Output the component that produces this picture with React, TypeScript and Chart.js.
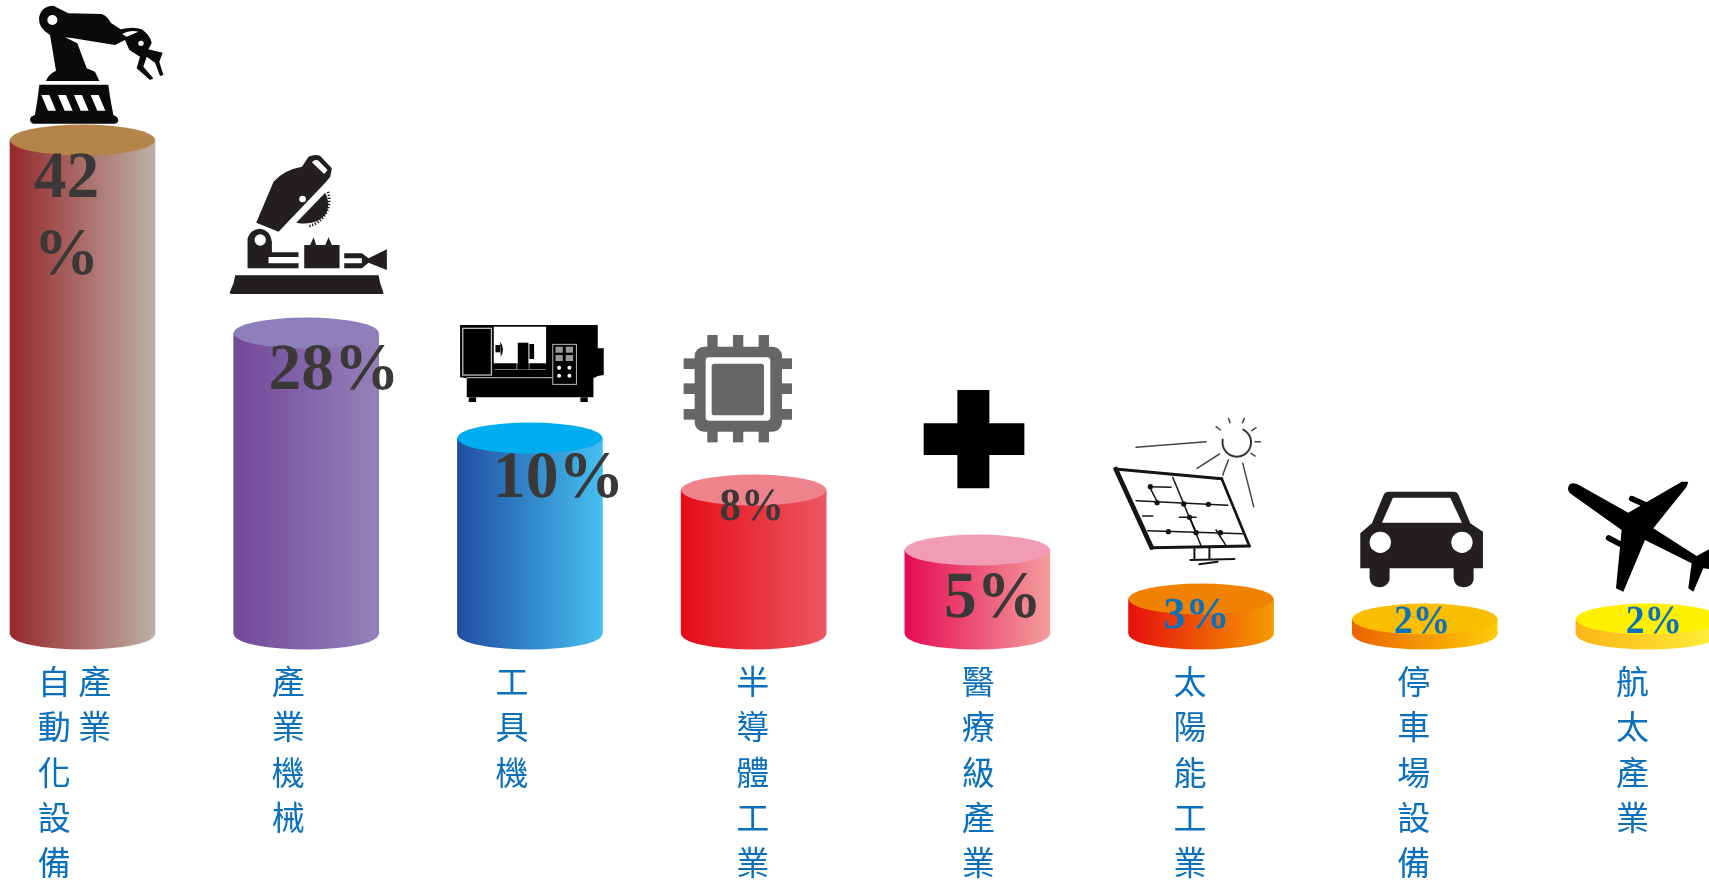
import React, { useEffect, useRef } from "react";
import { Chart, LinearScale, registerables } from "chart.js";

// Share of each application sector, in percent.
const shareValues = [42, 28, 10, 8, 5, 3, 2, 2];

// Sector names, written top to bottom; one sector runs over two columns.
const sectorColumns = [
  ["自動化設備", "產業"],
  ["產業機械"],
  ["工具機"],
  ["半導體工業"],
  ["醫療級產業"],
  ["太陽能工業"],
  ["停車場設備"],
  ["航太產業"],
];

const sideColors = [
  ["#96282c", "#bdb0a4"],
  ["#734799", "#9382ba"],
  ["#1f4ea1", "#46bff0"],
  ["#e60c17", "#ec5761"],
  ["#e60b55", "#f49d9b"],
  ["#e60f0c", "#f59c00"],
  ["#ec6400", "#fccd05"],
  ["#fbb414", "#fff13c"],
];
const capColors = ["#b3854a", "#8d80ba", "#00aeef", "#ef838c", "#f19cb4", "#f08200", "#fabe00", "#fff000"];

const DARK = "#3b3838";
const BLUE = "#0b70bb";
const VALUE_FONT = '"Liberation Serif", serif';
const LABEL_FONT = '"Noto Sans CJK TC", sans-serif';

const BAR_WIDTH = 145;
const CAP_RY = 15.5;
const X_MIN = -0.3688;
const X_MAX = 7.2705;
const X_UNIT = 1709 / (X_MAX - X_MIN);

// Placement of the value text around each cylinder top; the smaller type is set slightly condensed.
const valueLayout = [
  { dx: -16, dy: 57, size: 66, squeeze: 0.99, color: DARK },
  { dx: 27.7, dy: 56, size: 66, squeeze: 0.99, color: DARK },
  { dx: 28.6, dy: 59, size: 66, squeeze: 0.995, color: DARK },
  { dx: -2, dy: 30, size: 46, squeeze: 0.935, color: DARK },
  { dx: 15.6, dy: 67, size: 66, squeeze: 0.99, color: DARK },
  { dx: -4.5, dy: 29, size: 44, squeeze: 1, color: BLUE },
  { dx: -2.5, dy: 14, size: 40, squeeze: 0.94, color: BLUE },
  { dx: 5.5, dy: 14, size: 40, squeeze: 0.94, color: BLUE },
];
const WRAPPED_LINE_GAP = 77;
const labelNudges = [-8, -18, -18, -1, 1, -11, -11, -16];

// Pictorial value axis: cylinder heights grow unevenly with the value.
const axisStops = [
  [0, 0],
  [2, 0.0237],
  [3, 0.0552],
  [5, 0.1325],
  [8, 0.2271],
  [10, 0.3091],
  [28, 0.4748],
  [42, 0.7792],
  [54, 1],
];

class PictorialScale extends LinearScale {
  static id = "pictorial";
  static defaults = LinearScale.defaults;
  getPixelForValue(value: number) {
    for (let i = 1; i < axisStops.length; i++) {
      const [v0, f0] = axisStops[i - 1];
      const [v1, f1] = axisStops[i];
      if (value <= v1) return this.getPixelForDecimal(f0 + ((value - v0) / (v1 - v0)) * (f1 - f0));
    }
    return this.getPixelForDecimal(1);
  }
  getValueForPixel(pixel: number) {
    const f = this.getDecimalForPixel(pixel);
    for (let i = 1; i < axisStops.length; i++) {
      const [v0, f0] = axisStops[i - 1];
      const [v1, f1] = axisStops[i];
      if (f <= f1) return v0 + ((f - f0) / (f1 - f0)) * (v1 - v0);
    }
    return axisStops[axisStops.length - 1][0];
  }
}

Chart.register(...registerables, PictorialScale);

// Turn the column lists into the lines of a tick label.
function stackedLines(columns: string[]) {
  const rows = Math.max(...columns.map((c) => c.length));
  const lines: string[] = [];
  for (let r = 0; r < rows; r++) {
    lines.push(columns.map((c) => c[r] ?? "\u3000").join(" "));
  }
  return lines;
}

type Ctx = CanvasRenderingContext2D;

function fillPath(ctx: Ctx, d: string, color: string) {
  ctx.fillStyle = color;
  ctx.fill(new Path2D(d));
}
function circle(ctx: Ctx, x: number, y: number, r: number, color: string) {
  ctx.fillStyle = color;
  ctx.beginPath();
  ctx.arc(x, y, r, 0, Math.PI * 2);
  ctx.fill();
}
function segments(ctx: Ctx, lines: number[][], width: number, color: string) {
  ctx.strokeStyle = color;
  ctx.lineWidth = width;
  ctx.lineCap = "round";
  for (const [a, b, c, d] of lines) {
    ctx.beginPath();
    ctx.moveTo(a, b);
    ctx.lineTo(c, d);
    ctx.stroke();
  }
}
function roundBox(ctx: Ctx, x: number, y: number, w: number, h: number, r: number, color: string) {
  ctx.fillStyle = color;
  ctx.beginPath();
  ctx.roundRect(x, y, w, h, r);
  ctx.fill();
}

const K = "#0a0a0a";
const W = "#ffffff";

function robotIcon(ctx: Ctx) {
  fillPath(ctx, "M90 358Q92 348 105 345L112 300L118 254L325 254L330 290L340 345Q355 350 355 362Q352 372 340 371L100 371Q90 368 90 358Z", K);
  for (const x of [124, 174, 222, 272]) {
    fillPath(ctx, `M${x} 285L${x + 24} 285L${x + 44} 332L${x + 20} 332Z`, W);
  }
  fillPath(
    ctx,
    "M138 243Q145 222 168 212L150 105Q115 85 117 55Q122 18 160 17L205 40L305 42Q322 48 332 68L362 88Q400 78 425 88Q450 105 455 128Q450 140 445 148L488 158L478 185L490 225L480 228L465 188L440 170L430 200L460 235L450 240L410 205L420 170L388 150L375 120L345 135L220 115L195 112L232 130L260 205L285 215L298 243Z",
    K
  );
  circle(ctx, 157, 60, 15, W);
  circle(ctx, 423, 130, 8, W);
  fillPath(ctx, "M366 102Q390 88 415 95L380 110Z", W);
}

function sawIcon(ctx: Ctx) {
  const c = "#231f20";
  fillPath(ctx, "M688 878L700 850L705 826L1135 826L1140 850L1150 878Q1150 882 1145 882L692 882Z", c);
  fillPath(ctx, "M742 805L742 715Q750 688 780 686Q810 690 815 725L815 757L895 757L895 771L805 771L805 790L895 790L895 805Z", c);
  circle(ctx, 780, 720, 17, W);
  fillPath(ctx, "M912 805L912 735L930 735L940 712L948 735L975 735L985 712L995 735L1018 735L1018 805Z", c);
  fillPath(ctx, "M1032 760L1085 760L1105 775L1160 748L1160 810L1105 788L1085 805L1032 805L1032 790L1085 790L1085 775L1032 775Z", c);
  fillPath(ctx, "M768 668L820 545Q850 510 905 500L925 470Q945 462 960 468L995 505L990 530L978 545L835 695Z", c);
  fillPath(ctx, "M935 487Q945 477 955 482L982 510L972 522Z", W);
  circle(ctx, 907, 597, 10, W);
  fillPath(ctx, "M888 668L975 578Q992 610 978 640Q950 680 888 668Z", c);
  ctx.strokeStyle = c;
  ctx.lineWidth = 8;
  ctx.setLineDash([4, 5]);
  ctx.beginPath();
  ctx.arc(905, 600, 82, -0.3, 1.35);
  ctx.stroke();
  ctx.setLineDash([]);
}

function latheIcon(ctx: Ctx) {
  fillPath(ctx, "M92 75L505 75L505 145L523 145L523 225L505 228L492 235L492 292L112 292L112 235L92 232Z", "#000");
  ctx.fillRect(118, 292, 22, 14);
  ctx.fillRect(453, 292, 22, 14);
  ctx.fillStyle = W;
  ctx.fillRect(193, 80, 157, 110);
  ctx.strokeStyle = "#bbb";
  ctx.lineWidth = 4;
  ctx.strokeRect(100, 85, 86, 140);
  segments(ctx, [[112, 233, 368, 233], [197, 208, 347, 208], [197, 190, 347, 190]], 3, "#ccc");
  ctx.fillStyle = "#000";
  ctx.fillRect(197, 190, 150, 18);
  ctx.fillRect(197, 211, 150, 20);
  ctx.fillRect(265, 128, 32, 80);
  ctx.fillRect(300, 132, 14, 45);
  ctx.fillRect(198, 135, 14, 22);
  fillPath(ctx, "M212 125Q228 145 214 170Z", "#000");
  segments(ctx, [[262, 190, 262, 208], [299, 190, 299, 208]], 2, "#ccc");
  ctx.strokeStyle = "#bbb";
  ctx.lineWidth = 3;
  ctx.strokeRect(370, 133, 71, 120);
  for (const x of [378, 409]) {
    for (const y of [140, 165]) {
      ctx.fillStyle = "#999";
      ctx.fillRect(x, y, 22, 18);
    }
    circle(ctx, x + 11, 203, 6, W);
    circle(ctx, x + 11, 227, 6, W);
  }
}

function chipIcon(ctx: Ctx) {
  const g = "#666666";
  roundBox(ctx, 795, 140, 262, 255, 28, g);
  for (const x of [833, 910, 987]) {
    ctx.fillStyle = g;
    ctx.fillRect(x, 105, 31, 40);
    ctx.fillRect(x, 390, 31, 37);
  }
  for (const y of [175, 250, 327]) {
    ctx.fillStyle = g;
    ctx.fillRect(762, y, 40, 32);
    ctx.fillRect(1050, y, 37, 32);
  }
  roundBox(ctx, 828, 172, 194, 190, 10, W);
  roundBox(ctx, 846, 191, 157, 155, 8, g);
}

function crossIcon(ctx: Ctx) {
  fillPath(ctx, "M231 30L327 30L327 130L432 130L432 225L327 225L327 325L231 325L231 225L130 225L130 130L231 130Z", "#000");
}

function solarIcon(ctx: Ctx) {
  const c = "#141414";
  segments(ctx, [[704, 267, 812, 503]], 14, c);
  segments(ctx, [[702, 267, 1022, 296], [810, 503, 1105, 498]], 9, c);
  segments(ctx, [[1022, 296, 1105, 498]], 8, c);
  segments(
    ctx,
    [
      [765, 362, 1040, 376], [800, 452, 1085, 461], [785, 408, 815, 408], [895, 412, 945, 412],
      [875, 292, 960, 497], [805, 320, 870, 322], [805, 320, 832, 372], [1005, 450, 1035, 497],
      [925, 410, 945, 455],
    ],
    4.5,
    c
  );
  for (const [x, y] of [[808, 320], [828, 368], [908, 372], [982, 373], [862, 455], [945, 458], [1018, 458], [925, 412]]) {
    circle(ctx, x, y, 8, c);
  }
  segments(ctx, [[940, 508, 940, 535], [985, 505, 985, 535], [928, 540, 1060, 537], [955, 553, 1010, 545]], 6, c);
  ctx.strokeStyle = "#333";
  ctx.lineWidth = 6;
  ctx.beginPath();
  ctx.arc(1067, 187, 43, -1.1, Math.PI + 0.2);
  ctx.stroke();
  segments(
    ctx,
    [
      [765, 202, 975, 185], [948, 265, 1015, 222], [1025, 285, 1042, 240], [1085, 250, 1118, 380],
      [1005, 140, 1018, 150], [1042, 115, 1047, 128], [1090, 115, 1084, 128], [1125, 143, 1112, 152],
      [1138, 185, 1122, 185], [1122, 228, 1110, 220],
    ],
    4.5,
    "#444"
  );
}

function carIcon(ctx: Ctx) {
  fillPath(
    ctx,
    "M120 325L120 220L155 190L190 105Q195 95 205 95L400 95Q410 95 415 105L450 190L488 215L488 325L460 325L460 360Q455 382 430 382Q402 380 400 355L400 325L208 325L208 360Q200 382 178 382Q150 380 148 355L148 325Z",
    "#231f20"
  );
  fillPath(ctx, "M218 113L390 113L425 188L185 188Z", W);
  circle(ctx, 180, 247, 32, W);
  circle(ctx, 425, 247, 32, W);
}

function planeIcon(ctx: Ctx) {
  fillPath(
    ctx,
    "M750 72Q765 66 782 78L925 158L1085 65L1105 65L1100 80L1000 205L1130 288L1190 255L1190 330L1150 325L1120 395L1105 385L1115 310L975 240L910 395L888 385L905 210L750 100Q738 85 750 72Z",
    "#000"
  );
  segments(ctx, [[935, 116, 975, 134], [866, 234, 900, 252]], 17, "#000");
}

// Each glyph is sketched at three times its size; anchors are measured from the top of its cylinder.
const icons = [
  { draw: robotIcon, ox: -82.5, oy: -140 },
  { draw: sawIcon, ox: -306, oy: -333 },
  { draw: latheIcon, ox: -100.5, oy: -138 },
  { draw: chipIcon, ox: -324, oy: -190 },
  { draw: crossIcon, ox: -97, oy: -170 },
  { draw: solarIcon, ox: -320, oy: -219 },
  { draw: carIcon, ox: -104.5, oy: -159 },
  { draw: planeIcon, ox: -328.5, oy: -159 },
];

const cylinderPlugin = {
  id: "cylinder",
  afterDatasetsDraw(chart: any) {
    const { ctx } = chart;
    const bars = chart.getDatasetMeta(0).data;
    bars.forEach((bar: any, i: number) => {
      const rx = BAR_WIDTH / 2;
      const base = bar.base;
      const grad = ctx.createLinearGradient(bar.x - rx, 0, bar.x + rx, 0);
      grad.addColorStop(0, sideColors[i][0]);
      grad.addColorStop(1, sideColors[i][1]);
      ctx.save();
      ctx.fillStyle = grad;
      ctx.beginPath();
      ctx.ellipse(bar.x, base, rx, CAP_RY, 0, 0, Math.PI);
      ctx.fill();
      ctx.fillStyle = capColors[i];
      ctx.beginPath();
      ctx.ellipse(bar.x, bar.y, rx, CAP_RY, 0, 0, Math.PI * 2);
      ctx.fill();
      ctx.restore();

      const icon = icons[i];
      ctx.save();
      ctx.translate(bar.x + icon.ox, bar.y + icon.oy);
      ctx.scale(1 / 3, 1 / 3);
      icon.draw(ctx);
      ctx.restore();

      const layout = valueLayout[i];
      const value = shareValues[i];
      ctx.save();
      ctx.translate(bar.x + layout.dx, bar.y + layout.dy);
      ctx.scale(layout.squeeze, 1);
      ctx.font = `bold ${layout.size}px ${VALUE_FONT}`;
      ctx.fillStyle = layout.color;
      ctx.textAlign = "center";
      ctx.textBaseline = "alphabetic";
      ctx.textRendering = "geometricPrecision";
      if (i === 0) {
        // The tallest cylinder's value breaks onto two lines.
        ctx.fillText(String(value), 0, 0);
        ctx.fillText("%", 0, WRAPPED_LINE_GAP);
      } else {
        ctx.fillText(`${value}%`, 0, 0);
      }
      ctx.restore();
    });
  },
};

export default function App() {
  const canvasRef = useRef<HTMLCanvasElement | null>(null);

  useEffect(() => {
    const canvas = canvasRef.current;
    if (!canvas) return;
    const chart = new Chart(canvas, {
      type: "bar",
      data: {
        datasets: [
          {
            data: shareValues.map((y, x) => ({ x, y })),
            barThickness: BAR_WIDTH,
            borderWidth: 0,
            backgroundColor: (c: any) => {
              const i = c.dataIndex ?? 0;
              const xs = c.chart.scales.x;
              if (!xs || !c.chart.chartArea) return sideColors[i][0];
              const px = xs.getPixelForValue(i);
              const g = c.chart.ctx.createLinearGradient(px - BAR_WIDTH / 2, 0, px + BAR_WIDTH / 2, 0);
              g.addColorStop(0, sideColors[i][0]);
              g.addColorStop(1, sideColors[i][1]);
              return g;
            },
          },
        ],
      },
      options: {
        responsive: false,
        animation: false,
        devicePixelRatio: 1,
        layout: { padding: 0 },
        plugins: { legend: { display: false }, tooltip: { enabled: false }, title: { display: false } },
        scales: {
          x: {
            type: "linear",
            offset: false,
            min: X_MIN,
            max: X_MAX,
            grid: { display: false, drawTicks: false },
            border: { display: false },
            afterBuildTicks: (scale: any) => {
              scale.ticks = sectorColumns.map((_, i) => ({ value: i + labelNudges[i] / X_UNIT }));
            },
            afterFit: (scale: any) => {
              scale.height = 249;
            },
            ticks: {
              autoSkip: false,
              maxRotation: 0,
              minRotation: 0,
              padding: 25,
              color: BLUE,
              font: { family: LABEL_FONT, size: 33, lineHeight: "45.3px" },
              callback: (_v: any, i: number) => stackedLines(sectorColumns[i]),
            },
          },
          y: {
            type: "pictorial",
            min: 0,
            max: 54,
            display: false,
          },
        },
      },
      plugins: [cylinderPlugin],
    } as any);
    return () => chart.destroy();
  }, []);

  return (
    <canvas
      ref={canvasRef}
      width={1709}
      height={883}
      style={{ position: "fixed", left: 0, top: 0, width: 1709, height: 883, display: "block", background: "#fff" }}
    />
  );
}
